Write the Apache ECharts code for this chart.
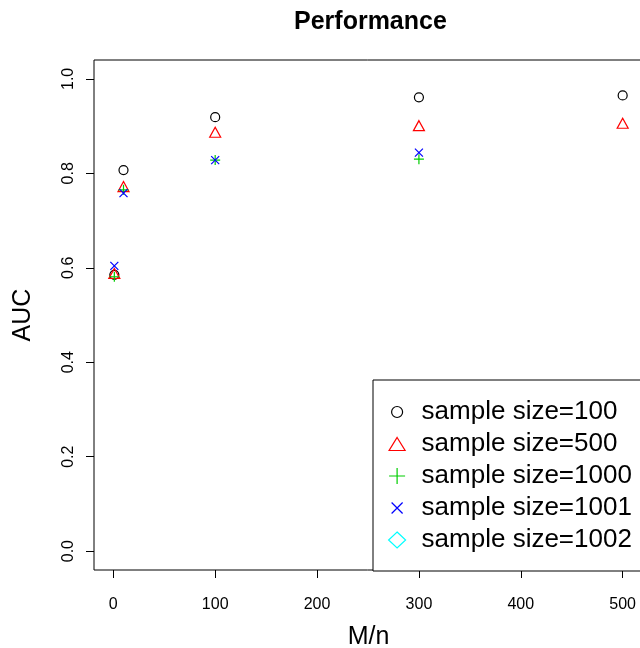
<!DOCTYPE html>
<html>
<head>
<meta charset="utf-8">
<script src="https://cdn.jsdelivr.net/npm/echarts@6/dist/echarts.min.js"></script>
<style>html,body{margin:0;padding:0;background:#fff;}#c{width:640px;height:648px;}</style>
</head>
<body>
<div id="c"></div>
<script>
var seriesNames = ['sample size=100', 'sample size=500', 'sample size=1000', 'sample size=1001', 'sample size=1002'];
var size100 = [[1, 0.585], [10, 0.807], [100, 0.919], [300, 0.961], [500, 0.965]];
var size500 = [[1, 0.588], [10, 0.772], [100, 0.887], [300, 0.901], [500, 0.906]];
var size1000 = [[1, 0.581], [10, 0.765], [100, 0.828], [300, 0.830]];
var size1001 = [[1, 0.604], [10, 0.758], [100, 0.828], [300, 0.844]];
var size1002 = [];
var xTicks = [0, 100, 200, 300, 400, 500];
var yTicks = [0, 0.2, 0.4, 0.6, 0.8, 1.0];

var FONT = 'Liberation Sans, Arial, sans-serif';
var colors = ['#000000', '#FF0000', '#00CD00', '#0000FF', '#00FFFF'];
var plotSymbols = [
  'circle',
  'path://M5,0 L10,8.66 L0,8.66 Z',
  'path://M5,0 L5,10 M0,5 L10,5',
  'path://M0,0 L10,10 M10,0 L0,10',
  'diamond'
];
var plotSizes = [9, [11, 10], 10, 8, 10];
// legend icons: padded bounding boxes so symbols scale like R's legend
var legendIcons = [
  'path://M0,0 L0,0 M17,16 L17,16 M14,8 A5.5,5.5 0 1 1 3,8 A5.5,5.5 0 1 1 14,8 Z',
  'path://M0,0 L0,0 M17,16 L17,16 M8.5,1.5 L16.5,14.5 L0.5,14.5 Z',
  'path://M0,0 L0,0 M17,16 L17,16 M8.5,0 L8.5,16 M0.5,8 L16.5,8',
  'path://M0,0 L0,0 M17,16 L17,16 M3,2.5 L14,13.5 M14,2.5 L3,13.5',
  'path://M0,0 L0,0 M17,16 L17,16 M8.5,0 L17,8 L8.5,16 L0,8 Z'
];
var datasets = [size100, size500, size1000, size1001, size1002];

var series = seriesNames.map(function (n, i) {
  return {
    name: n,
    type: 'scatter',
    data: datasets[i],
    symbol: plotSymbols[i],
    symbolSize: plotSizes[i],
    clip: false,
    itemStyle: { color: 'rgba(0,0,0,0)', borderColor: colors[i], borderWidth: 1.2, opacity: 1 },
    emphasis: { disabled: true }
  };
});

var chart = echarts.init(document.getElementById('c'), null, { renderer: 'canvas' });
chart.setOption({
  animation: false,
  backgroundColor: '#ffffff',
  title: {
    text: 'Performance',
    left: 289, top: 5,
    textStyle: { fontFamily: FONT, fontWeight: 'bold', fontSize: 25, color: '#000' }
  },
  grid: {
    left: 94, top: 60, width: 549, height: 510,
    outerBoundsMode: 'none', containLabel: false,
    show: true, borderColor: '#000', borderWidth: 1, backgroundColor: 'transparent'
  },
  xAxis: {
    type: 'value', min: -18.96, max: 519.96,
    name: 'M/n', nameLocation: 'middle', nameGap: 55,
    nameTextStyle: { fontFamily: FONT, fontSize: 25, color: '#000' },
    axisLine: { show: false, onZero: false },
    splitLine: { show: false },
    axisTick: { show: true, inside: false, length: 8, customValues: xTicks, lineStyle: { color: '#000', width: 1 } },
    axisLabel: { show: true, customValues: xTicks, margin: 27, fontFamily: FONT, fontSize: 16, color: '#000',
      formatter: function (v) { return String(v); } }
  },
  yAxis: {
    type: 'value', min: -0.04, max: 1.04,
    name: 'AUC', nameLocation: 'middle', nameGap: 58, nameRotate: 90,
    nameTextStyle: { fontFamily: FONT, fontSize: 25, color: '#000' },
    axisLine: { show: false, onZero: false },
    splitLine: { show: false },
    axisTick: { show: true, inside: false, length: 8, customValues: yTicks, lineStyle: { color: '#000', width: 1 } },
    axisLabel: { show: true, customValues: yTicks, rotate: 90, margin: 17, fontFamily: FONT, fontSize: 16, color: '#000',
      formatter: function (v) { return v.toFixed(1); } }
  },
  legend: {
    orient: 'vertical',
    left: 373, top: 380,
    padding: [19, 30, 18, 15],
    itemGap: 6,
    itemWidth: 17, itemHeight: 16,
    backgroundColor: '#fff',
    borderColor: '#000', borderWidth: 1, borderRadius: 0,
    selectedMode: false,
    data: seriesNames.map(function (n, i) {
      return { name: n, icon: legendIcons[i], itemStyle: { color: 'rgba(0,0,0,0)', borderColor: colors[i], borderWidth: 1.2 } };
    }),
    textStyle: { fontFamily: FONT, fontSize: 26, lineHeight: 26, color: '#000', padding: [0, 0, 0, 11] }
  },
  series: series
});
</script>
</body>
</html>
